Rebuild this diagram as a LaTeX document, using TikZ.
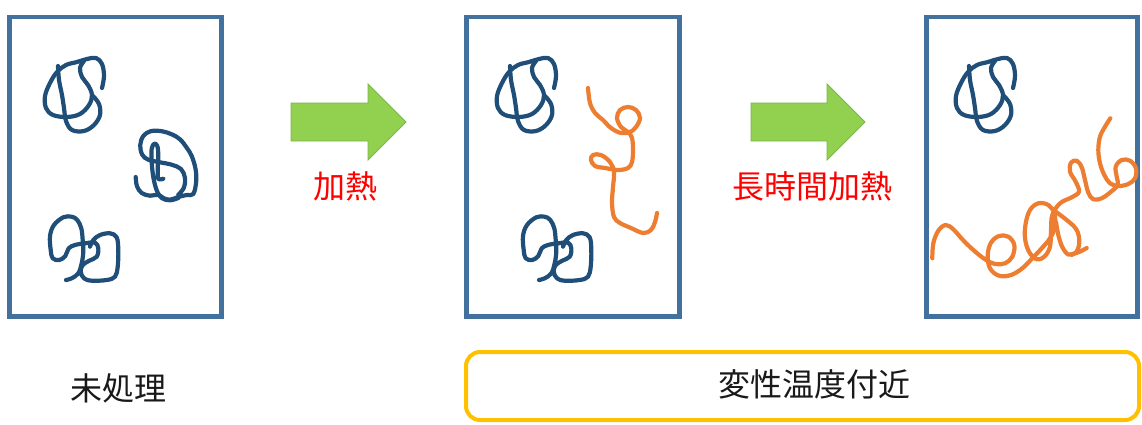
\documentclass[tikz,border=0pt]{standalone}
\usepackage{fontspec}
\newfontfamily\jpfont{Noto Sans CJK JP}
\definecolor{boxblue}{HTML}{41719C}
\definecolor{coilblue}{HTML}{1F4E79}
\definecolor{chainorange}{HTML}{ED7D31}
\definecolor{arrowgreen}{HTML}{92D050}
\definecolor{arrowedge}{HTML}{7AB648}
\definecolor{tagyellow}{HTML}{FFC000}

% folded protein coils, drawn at their place in the first panel
\newcommand{\coilTop}[1]{%
  \draw[coil,shift={#1}] plot[smooth,tension=0.6] coordinates {
    (102,88) (104,76) (102,64) (96,58) (87,59) (77,62) (66,65) (57,72) (50,83)
    (45,96) (46,108) (53,115) (67,117) (80,114) (89,105) (92,95) (88,85)
    (82,77) (80,68) (84,61)};
  \draw[coil,shift={#1}] plot[smooth,tension=0.6] coordinates {
    (58,66) (59,80) (62,95) (64,108) (66,121) (72,130) (84,131) (94,125)
    (100,115) (99,104) (93,96)};
}
\newcommand{\coilMid}[1]{%
  \draw[coil,shift={#1}] plot[smooth,tension=0.6] coordinates {
    (135.7,177) (137,186.3) (141.7,193) (150,195.7) (158.3,194.7) (163.3,198)
    (170,199.7) (178.3,197) (186.7,195) (193.3,194) (196.2,181.3) (195.5,168.7)
    (191.7,156) (186.7,147.7) (180,139.3) (171.7,134.3) (161.7,131.2)
    (150.7,131.2) (143.3,136) (140.2,145.3) (142.3,154.7) (148.3,159.7)
    (160,162.3) (171.7,164.7) (181,169) (185,178) (183.7,188) (178.3,194.7)};
  \draw[coil,shift={#1}] plot[smooth,tension=0.6] coordinates {
    (163.3,178.7) (158.3,178.7) (157.7,168.7) (158.3,155.3) (157.3,146)
    (154.3,143.7) (151.7,148.7) (151.7,162) (153.3,177) (156.7,190.3)
    (161.7,198) (170,200.3) (178.3,198)};
}
\newcommand{\coilLow}[1]{%
  \draw[coil,shift={#1}] plot[smooth,tension=0.6] coordinates {
    (66,280) (71.7,278.3) (78.3,273.3) (81.7,263.3) (83.3,251.7) (82.7,240)
    (81.3,228.3) (77.3,220) (71.7,216.7) (63.3,217.3) (54,225) (50,236)
    (50.7,250) (52.7,258.3) (59.3,260) (65.3,256) (68.7,248.3) (75,245)
    (85,243.3) (95,242.7) (98.3,248.3) (96.7,256.7) (89.3,260.7) (82.7,265)
    (80.7,271.7) (84,278.3) (91.7,280.7) (106.7,280) (115,276.7) (117.7,266.7)
    (118.3,250) (116.7,237.3) (110,233.3) (100,235) (93.3,240) (90,246.7)};
}

\begin{document}
\begin{tikzpicture}[x=1pt,y=-1pt,
  panel/.style={draw=boxblue,line width=4.5pt},
  coil/.style={draw=coilblue,line width=4.2pt,line cap=round,line join=round},
  chain/.style={draw=chainorange,line width=4.2pt,line cap=round,line join=round},
  bigarrow/.style={fill=arrowgreen,draw=arrowedge,line width=0.8pt},
  redlabel/.style={text=red,font=\jpfont\fontsize{32}{38}\selectfont,inner sep=0pt},
  blacklabel/.style={text=black!90,font=\jpfont\fontsize{32}{38}\selectfont,inner sep=0pt},
  tagbox/.style={draw=tagyellow,line width=4pt,rounded corners=14pt}
]
\useasboundingbox (0,0) rectangle (1142,424);

% three sample panels
\draw[panel] (9.5,17) rectangle (221.5,316.5);
\draw[panel] (466.5,17) rectangle (679.5,316.5);
\draw[panel] (926.5,17) rectangle (1137.5,316.5);

% panel 1: untreated, three folded coils
\coilTop{(0,0)}
\coilMid{(0,0)}
\coilLow{(0,0)}

% panel 2: two folded coils and one partly unfolded chain
\coilTop{(452,0)}
\coilLow{(473,0)}
\draw[chain] plot[smooth,tension=0.6] coordinates {
  (588,88) (590,103) (595,113) (603,120) (611,128) (621,133) (630,132)
  (636,127) (640,118) (636,110) (628,107) (620,110) (617,118) (621,127)
  (628,132) (632,138) (633,150) (632,162) (628,168) (618,170) (605,168)
  (595,166) (591,160) (593,155) (601,155) (610,162) (614,172) (613,187)
  (612,203) (614,217) (620,223) (631,228) (643,233) (651,230) (655,222)
  (657,213)};

% panel 3: one folded coil and one long unfolded chain
\coilTop{(911,0)}
\draw[chain] plot[smooth,tension=0.6] coordinates {
  (932.3,258.3) (933.3,243.3) (938.3,230.7) (945.7,225) (953.3,229.3)
  (962.3,239.3) (973.3,250) (985,259.3) (995,264) (1005,263.3) (1012.3,256.7)
  (1014.3,245) (1008.3,236.7) (999,236) (991,242.7) (987.7,255) (990,268.3)
  (999,275.7) (1011,275) (1022.3,268.3) (1032.3,258.3) (1041.7,248.3)
  (1050,238.3) (1055,226.7) (1054.3,213.3) (1048.3,205) (1038.3,203.3)
  (1030,210) (1025.7,223.3) (1025,238.3) (1029,251.7) (1036.7,259.3)
  (1044.3,256.7) (1050,246.7) (1051,230) (1052.3,215) (1060,203.3)
  (1071.7,197.3) (1079,191.7) (1075.7,181.7) (1070,171.7) (1071,162.7)
  (1076.7,160.7) (1081.7,167.3) (1085,180) (1088.3,192.7) (1093.3,199.3)
  (1101.7,198.3) (1111,191.7) (1117.7,185) (1116.7,176.7) (1115.7,166.7)
  (1121.7,160) (1130,160.7) (1136,168.3) (1135,178.3) (1128.3,184)
  (1118.3,186) (1110,183.3) (1104.3,175) (1100,163.3) (1098.3,150)
  (1100,136.7) (1105,126.7) (1110.3,118.3)};
\draw[chain] plot[smooth,tension=0.6] coordinates {
  (1053.3,210) (1066.7,220) (1076.7,230) (1079.3,242.7) (1075.7,252.7)
  (1068.3,254.5) (1062.3,247) (1058.3,235) (1056,222)};
\draw[chain] plot[smooth,tension=0.6] coordinates {
  (1071,254.5) (1079,252) (1086.7,248)};

% process arrows
\draw[bigarrow] (291,103) -- (368,103) -- (368,84) -- (406,122) -- (368,160)
  -- (368,141) -- (291,141) -- cycle;
\draw[bigarrow] (751,103) -- (827,103) -- (827,84) -- (865,122) -- (827,160)
  -- (827,141) -- (751,141) -- cycle;

% labels
\node[redlabel] (heat) at (345,186) {加熱};
\node[redlabel] (longheat) at (812,186) {長時間加熱};
\node[blacklabel] (untreated) at (118,388) {未処理};
\draw[tagbox] (466,352) rectangle (1139,420);
\node[blacklabel] (neartemp) at (814,384) {変性温度付近};
\end{tikzpicture}
\end{document}
